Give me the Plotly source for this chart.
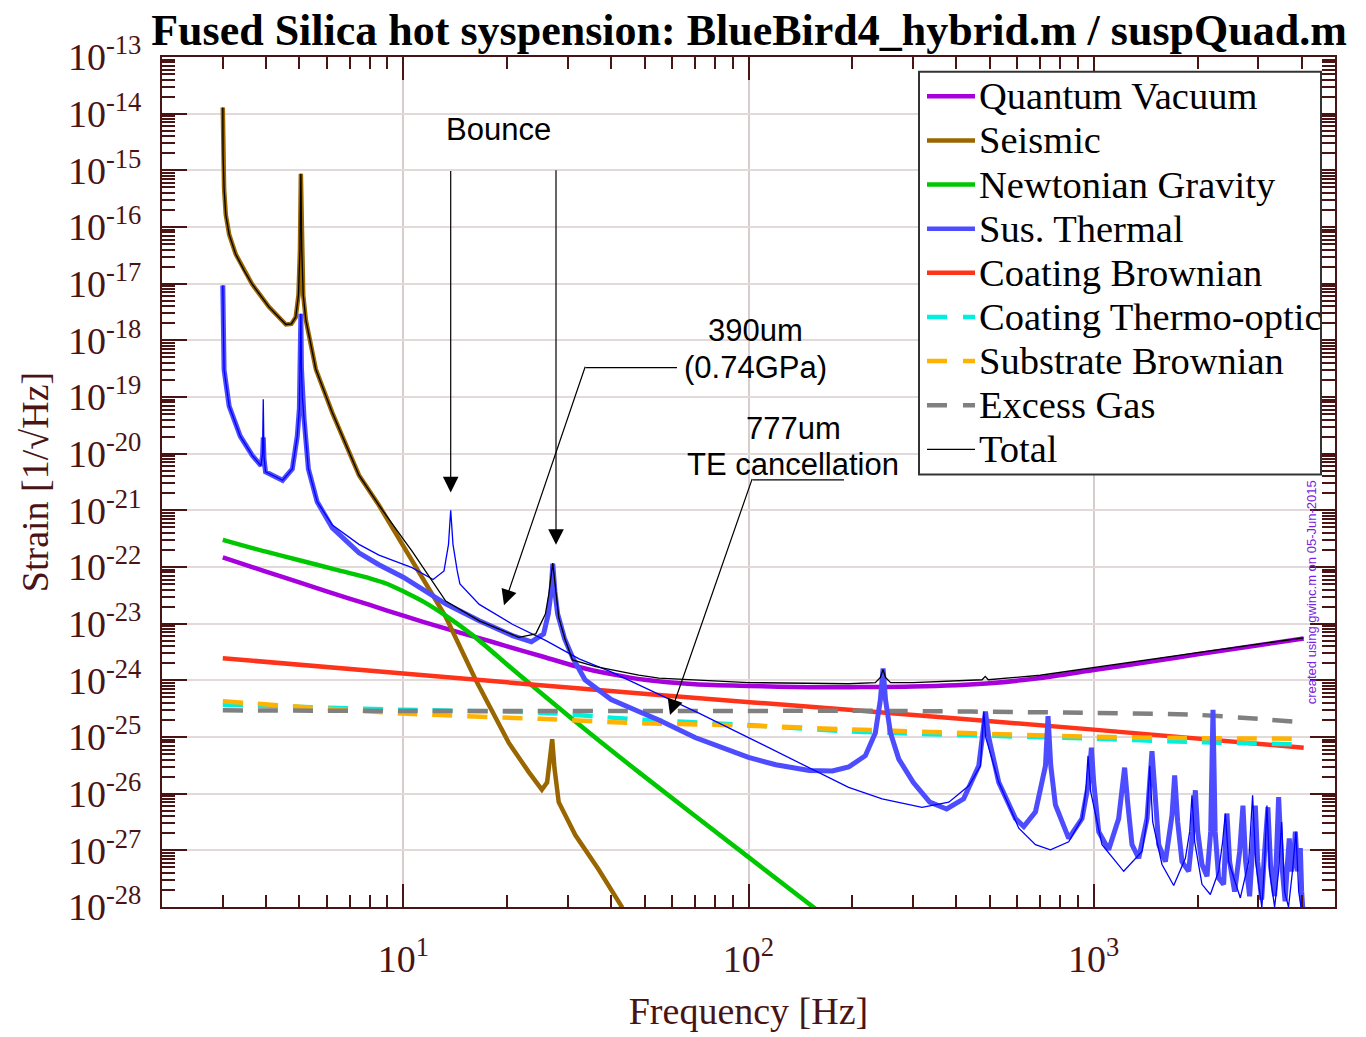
import numpy as np
import plotly.graph_objects as go

# ---------------- data (frequency in Hz, strain given as log10) ----------------
quantum_f = [3, 4, 5, 6, 8, 10, 13, 16.5, 20, 25, 32, 40, 50, 70, 100, 150, 200, 300, 500, 700, 1000, 1500, 2000, 3000, 4057]
quantum_log10 = [-21.83, -22.08, -22.27, -22.43, -22.67, -22.86, -23.07, -23.25, -23.40, -23.57, -23.76, -23.89, -23.99,
                 -24.07, -24.10, -24.12, -24.12, -24.11, -24.05, -23.96, -23.82, -23.66, -23.54, -23.38, -23.26]

seismic_f = [3.0, 3.006, 3.026, 3.06, 3.13, 3.27, 3.46, 3.65, 4.08, 4.57, 4.74, 4.88, 4.97, 5.02, 5.05, 5.08, 5.13, 5.22,
             5.58, 6.23, 7.44, 8.5, 10, 12.13, 13.27, 16.2, 20.2, 23.1, 25.2, 26.1, 26.6, 27.0, 27.4, 28.2, 31.5, 36.8, 43.1]
seismic_log10 = [-13.89, -14.74, -15.32, -15.78, -16.13, -16.48, -16.77, -17.01, -17.41, -17.72, -17.71, -17.59, -17.20,
                 -16.40, -15.06, -16.40, -17.20, -17.64, -18.51, -19.28, -20.38, -20.91, -21.62, -22.48, -22.88, -23.99,
                 -25.10, -25.62, -25.93, -25.80, -25.45, -25.04, -25.54, -26.15, -26.73, -27.34, -28.01]

newton_f = [3, 4, 5, 6.5, 8, 9, 10.16, 11.5, 13.27, 16, 20.7, 32.3, 48.1, 100, 160]
newton_log10 = [-21.52, -21.73, -21.88, -22.06, -22.20, -22.30, -22.45, -22.62, -22.86, -23.22, -23.80, -24.78, -25.62,
                -27.12, -28.08]

susth_f = [3.0, 3.006, 3.026, 3.13, 3.37, 3.65, 3.87, 3.91, 3.93, 3.95, 3.99, 4.08, 4.47, 4.77, 4.93, 5.0, 5.03, 5.05,
           5.07, 5.10, 5.16, 5.31, 5.63, 6.23, 7.44, 8.5, 10, 13.27, 16.6, 20.7, 23.5, 25.5, 26.3, 26.8, 27.1, 27.5, 28.0,
           29.3, 31, 33.6, 40, 48.1, 55, 70, 85, 100, 120, 150, 175, 195, 218, 233, 241, 245.4, 249.4, 257.8, 272.5, 300,
           335, 375, 420, 464.5, 475.5, 485.8, 496.6, 530.8, 593.4, 627.2, 678.1, 724.8, 737.4, 750.8, 774.6, 846.4,
           924.9, 967.2, 984.7, 1000, 1034, 1105, 1181, 1229, 1254, 1291, 1350, 1427, 1475, 1502, 1543, 1613, 1686, 1716,
           1751, 1802, 1884, 1935, 1970, 2001, 2059, 2129, 2182, 2216, 2248, 2301, 2379, 2432, 2476, 2560, 2647, 2706,
           2755, 2829, 2886, 2939, 2985, 3065, 3127, 3196, 3254, 3342, 3387, 3433, 3502, 3584, 3644, 3686, 3743, 3793,
           3837, 3896, 3936, 3968, 4003, 4057]
susth_log10 = [-17.03, -17.80, -18.52, -19.16, -19.69, -20.03, -20.21, -20.05, -19.71, -20.10, -20.32, -20.35, -20.47,
               -20.27, -19.69, -19.20, -18.50, -17.53, -18.50, -19.00, -19.39, -20.27, -20.85, -21.31, -21.75, -21.96,
               -22.18, -22.65, -22.95, -23.21, -23.32, -23.18, -22.83, -22.44, -21.94, -22.44, -22.83, -23.26, -23.61,
               -23.99, -24.34, -24.55, -24.70, -25.01, -25.20, -25.36, -25.49, -25.59, -25.60, -25.53, -25.33, -24.93,
               -24.34, -23.79, -24.34, -24.93, -25.39, -25.80, -26.15, -26.27, -26.09, -25.51, -25.01, -24.55, -25.01,
               -25.80, -26.44, -26.58, -26.32, -25.51, -24.63, -25.50, -26.20, -26.79, -26.44, -25.80, -25.19, -25.80,
               -26.67, -26.99, -26.44, -25.54, -26.15, -26.90, -27.14, -26.44, -25.25, -25.97, -26.90, -27.20, -26.38,
               -25.68, -26.50, -27.20, -27.37, -26.67, -25.94, -26.67, -27.25, -27.46, -26.67, -24.52, -26.67, -27.49,
               -27.60, -26.35, -27.20, -27.73, -27.02, -26.21, -27.20, -27.81, -27.02, -26.21, -27.20, -27.87, -27.02,
               -26.24, -27.28, -27.81, -27.02, -26.06, -27.20, -27.90, -27.20, -26.79, -27.37, -27.20, -26.67, -27.37,
               -27.20, -26.96, -27.73, -28.25]

# thin blue curve (alternative suspension, not in the legend)
susalt_f = [3.0, 3.006, 3.026, 3.13, 3.37, 3.65, 3.87, 3.91, 3.93, 3.95, 3.99, 4.08, 4.47, 4.77, 4.93, 5.0, 5.03, 5.05,
            5.07, 5.10, 5.16, 5.31, 5.63, 6.23, 7.44, 8.5, 10.6, 12.2, 13.12, 13.52, 13.65, 13.72, 13.79, 13.93, 14.33,
            14.59, 16.6, 20.7, 25.9, 32.3, 40, 48.1, 71.8, 100, 139.9, 195, 243.8, 304.6, 318.3, 380.4, 434.6, 469.8,
            475.5, 480.4, 486.8, 530.8, 606.6, 678.1, 749.3, 846.4, 924.9, 948, 962.8, 980.2, 1057, 1221.6, 1380, 1424,
            1453, 1482, 1577, 1705, 1843, 1897, 1926, 1961, 2059, 2177, 2301, 2363, 2406, 2460, 2659, 2811, 2886, 2945,
            3070, 3127, 3175, 3233, 3342, 3433, 3502, 3573, 3667, 3765, 3853, 3925, 4003]
susalt_log10 = [-17.03, -17.80, -18.52, -19.16, -19.69, -20.03, -20.21, -20.00, -19.04, -20.05, -20.32, -20.35, -20.47,
                -20.27, -19.69, -19.20, -18.50, -17.53, -18.50, -19.00, -19.39, -20.27, -20.85, -21.26, -21.60, -21.79,
                -22.01, -22.22, -22.07, -21.60, -21.20, -21.00, -21.20, -21.60, -22.07, -22.30, -22.66, -23.01, -23.30,
                -23.62, -23.85, -24.08, -24.58, -25.01, -25.45, -25.89, -26.09, -26.21, -26.24, -26.15, -25.86, -25.51,
                -25.01, -24.55, -25.01, -25.80, -26.61, -26.90, -26.99, -26.85, -26.44, -25.97, -25.33, -25.97, -26.90,
                -27.37, -27.02, -26.50, -25.51, -26.50, -27.25, -27.62, -27.14, -26.67, -26.03, -26.85, -27.60, -27.78,
                -27.37, -26.85, -26.35, -27.20, -27.84, -27.20, -26.03, -27.20, -28.01, -27.20, -26.21, -27.37, -28.00,
                -27.37, -26.50, -27.73, -28.00, -27.37, -26.67, -27.73, -28.07]

coatbr_f = [3, 10, 55, 195, 1000, 4057]
coatbr_log10 = [-23.61, -23.88, -24.26, -24.52, -24.87, -25.19]

coatto_f = [3, 10, 25, 45, 100, 195, 1000, 2000, 4057]
coatto_log10 = [-24.43, -24.52, -24.57, -24.68, -24.79, -24.90, -25.03, -25.09, -25.13]

subbr_f = [3, 10, 25, 45, 100, 200, 1000, 2000, 4057]
subbr_log10 = [-24.37, -24.585, -24.68, -24.75, -24.80, -24.867, -24.995, -25.02, -25.03]

gas_f = [3, 10, 100, 195, 1000, 2000, 3000, 4057]
gas_log10 = [-24.53, -24.54, -24.54, -24.536, -24.575, -24.61, -24.68, -24.74]

total_f = [3.0, 3.006, 3.026, 3.06, 3.13, 3.27, 3.46, 3.65, 4.08, 4.57, 4.74, 4.88, 4.97, 5.02, 5.05, 5.08, 5.13, 5.22,
           5.58, 6.23, 7.44, 8.5, 10, 10.6, 13.27, 16.6, 21.6, 24.2, 25.8, 26.4, 27.1, 27.7, 28.2, 29.4, 30.9, 36.1, 48.1,
           55, 100, 195, 233, 241, 245.4, 249.4, 258, 300, 475, 485, 495, 700, 1000, 1500, 2000, 3000, 4057]
total_log10 = [-13.89, -14.74, -15.32, -15.78, -16.13, -16.48, -16.77, -17.01, -17.41, -17.72, -17.71, -17.59, -17.20,
               -16.40, -15.06, -16.40, -17.20, -17.64, -18.51, -19.28, -20.38, -20.91, -21.51, -21.72, -22.60, -22.95,
               -23.24, -23.18, -22.83, -22.48, -21.93, -22.48, -22.89, -23.27, -23.64, -23.76, -23.91, -23.96, -24.04,
               -24.06, -24.04, -23.95, -23.81, -23.95, -24.04, -24.04, -23.99, -23.93, -23.99, -23.91, -23.77, -23.62,
               -23.51, -23.36, -23.25]

legend_names = ["Quantum Vacuum", "Seismic", "Newtonian Gravity", "Sus. Thermal", "Coating Brownian",
                "Coating Thermo-optic", "Substrate Brownian", "Excess Gas", "Total"]
colors = {"Quantum Vacuum": "#a600dc", "Seismic": "#996600", "Newtonian Gravity": "#00c800",
          "Sus. Thermal": "#4d4dff", "Coating Brownian": "#ff3319", "Coating Thermo-optic": "#00f0e0",
          "Substrate Brownian": "#ffb300", "Excess Gas": "#808080", "Total": "#000000"}
dashed = {"Coating Thermo-optic", "Substrate Brownian", "Excess Gas"}

x_ticks = [10, 100, 1000]
x_ticktext = ["10<sup>1</sup>", "10<sup>2</sup>", "10<sup>3</sup>"]
y_exponents = list(range(-28, -12))
y_ticks = [10.0 ** e for e in y_exponents]
y_ticktext = ["10<sup>%d</sup>" % e for e in y_exponents]

# ---------------- figure ----------------
OFF = 8                       # default body margin of the written page
W, H = 1366 - OFF, 1037 - OFF
L, R, T, B = 162, 1335, 57, 916   # plot area in page pixels
AX = "#4a1414"
SERIF = "Liberation Serif"
SANS = "Liberation Sans"


def pxx(x):
    return (x - L) / (R - L)


def pxy(y):
    return (B - y) / (B - T)


fig = go.Figure()


def add_curve(f, lg, name, color, width, dash=None, smooth=False):
    line = dict(color=color, width=width, dash=dash)
    if smooth:
        line.update(shape="spline", smoothing=0.8)
    fig.add_trace(go.Scatter(x=f, y=10.0 ** np.asarray(lg), mode="lines", name=name,
                             line=line, showlegend=False))


DASH = "20px,15px"
add_curve(quantum_f, quantum_log10, "Quantum Vacuum", colors["Quantum Vacuum"], 4.5, smooth=True)
add_curve(seismic_f, seismic_log10, "Seismic", colors["Seismic"], 4.5)
add_curve(newton_f, newton_log10, "Newtonian Gravity", colors["Newtonian Gravity"], 4.5, smooth=True)
add_curve(coatbr_f, coatbr_log10, "Coating Brownian", colors["Coating Brownian"], 4.5, smooth=True)
add_curve(coatto_f, coatto_log10, "Coating Thermo-optic", colors["Coating Thermo-optic"], 4.5, DASH, smooth=True)
add_curve(subbr_f, subbr_log10, "Substrate Brownian", colors["Substrate Brownian"], 4.5, DASH, smooth=True)
add_curve(gas_f, gas_log10, "Excess Gas", colors["Excess Gas"], 4.5, DASH, smooth=True)
add_curve(susth_f, susth_log10, "Sus. Thermal", colors["Sus. Thermal"], 5)
add_curve(susalt_f, susalt_log10, "Sus. Thermal (777um)", "#0000ff", 1.3)
add_curve(total_f, total_log10, "Total", colors["Total"], 1.3)

x_minor = [k * 10.0 ** e for e in range(0, 4) for k in range(2, 10) if 2 <= k * 10.0 ** e <= 5000]
y_minor = [k * 10.0 ** e for e in range(-28, -13) for k in range(2, 10)]

common_axis = dict(showline=True, linecolor=AX, linewidth=2, mirror="ticks", ticks="inside",
                   tickwidth=2, tickcolor=AX, tickmode="array", zeroline=False,
                   tickfont=dict(family=SERIF, size=38, color=AX), showgrid=True, gridwidth=2)

fig.update_layout(
    width=W, height=H, autosize=False,
    margin=dict(l=L - OFF, r=W - (R - OFF), t=T - OFF, b=H - (B - OFF), pad=0),
    paper_bgcolor="white", plot_bgcolor="white",
    title=dict(text="Fused Silica hot syspension: BlueBird4_hybrid.m / suspQuad.m",
               x=(749 - OFF) / W, xanchor="center", y=1 - (30 - OFF) / H, yanchor="middle",
               font=dict(family=SERIF, size=44, color="black", weight="bold")),
    xaxis=dict(type="log", range=[np.log10(2), np.log10(5000)], tickvals=x_ticks, ticktext=x_ticktext,
               ticklen=23, gridcolor="#d8cccc", ticklabelstandoff=17,
               minor=dict(tickmode="array", tickvals=x_minor, ticks="inside", ticklen=12, tickwidth=2,
                          tickcolor=AX, showgrid=False),
               title=dict(text="Frequency [Hz]", font=dict(family=SERIF, size=38, color=AX), standoff=19),
               **common_axis),
    yaxis=dict(type="log", range=[-28, -13], tickvals=y_ticks, ticktext=y_ticktext,
               ticklen=25, gridcolor="#e2dada", ticklabelstandoff=11,
               minor=dict(tickmode="array", tickvals=y_minor, ticks="inside", ticklen=13, tickwidth=2,
                          tickcolor=AX, showgrid=False),
               title=dict(text="Strain [1/\u221aHz]", font=dict(family=SERIF, size=38, color=AX), standoff=8),
               **common_axis),
)

shapes = []
annotations = []

# ---- manual legend ----
shapes.append(dict(type="rect", xref="paper", yref="paper", x0=pxx(919), x1=pxx(1321), y0=pxy(72), y1=pxy(479),
                   line=dict(color="#333333", width=2), fillcolor="white", layer="above"))
for i, name in enumerate(legend_names):
    yy = 96.7 + i * 44.6
    w = 1.3 if name == "Total" else 4.5
    shapes.append(dict(type="line", xref="paper", yref="paper", x0=pxx(927), x1=pxx(975), y0=pxy(yy), y1=pxy(yy),
                       line=dict(color=colors[name], width=w, dash=("20px,16px" if name in dashed else "solid")),
                       layer="above"))
    annotations.append(dict(text=name, xref="paper", yref="paper", x=pxx(977), y=pxy(yy), xanchor="left",
                            yanchor="middle", showarrow=False, font=dict(family=SERIF, size=38.5, color="black")))


# ---- text annotations ----
def label(text, x, y, size=31):
    annotations.append(dict(text=text, xref="paper", yref="paper", x=pxx(x), y=pxy(y), xanchor="center",
                            yanchor="middle", showarrow=False, font=dict(family=SANS, size=size, color="black")))


label("Bounce", 498, 130)
label("390um", 755, 333)
label("(0.74GPa)", 755, 371)
label("777um", 793, 432)
label("TE cancellation", 793, 469)


def arrow(tip_x, tip_y, tail_x, tail_y):
    annotations.append(dict(text="", xref="paper", yref="paper", x=pxx(tip_x), y=pxy(tip_y),
                            ax=tail_x - tip_x, ay=tail_y - tip_y, axref="pixel", ayref="pixel",
                            showarrow=True, arrowhead=2, arrowsize=2.6, arrowwidth=1.2, arrowcolor="black",
                            standoff=0, startstandoff=0))


arrow(450.7, 497, 450.7, 174)
arrow(556, 550, 556, 174)
arrow(504, 611, 585.7, 371)
arrow(670, 722, 752.7, 484.3)
for (x0, x1, y) in [(585.7, 677, 371), (752.7, 844, 484.3)]:
    shapes.append(dict(type="line", xref="paper", yref="paper", x0=pxx(x0), x1=pxx(x1), y0=pxy(y), y1=pxy(y),
                       line=dict(color="black", width=1.2), layer="above"))

annotations.append(dict(text="created using gwinc.m on 05-Jun-2015", xref="paper", yref="paper",
                        x=pxx(1311), y=pxy(598), textangle=-90, showarrow=False, xanchor="center",
                        yanchor="middle", font=dict(family=SANS, size=13, color="#7a22e0")))

fig.update_layout(shapes=shapes, annotations=annotations)
fig.write_html("out.html")
